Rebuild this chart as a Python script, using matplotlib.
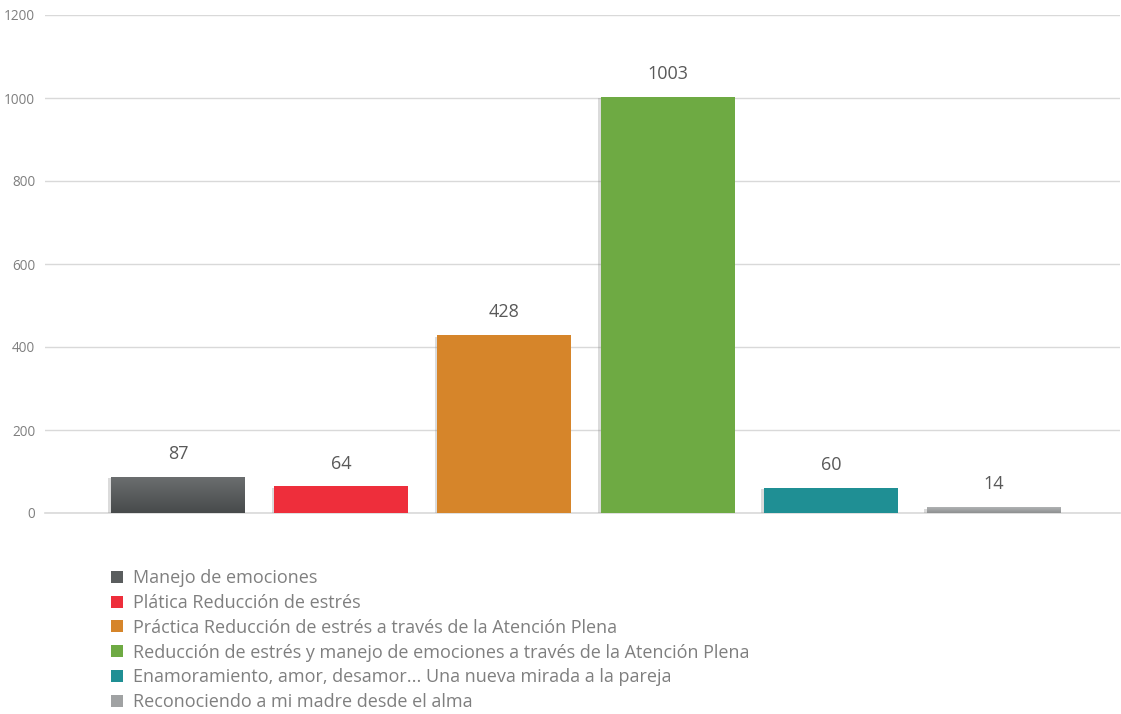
import numpy as np
import matplotlib
matplotlib.use("Agg")
import matplotlib.pyplot as plt
from matplotlib.patches import Patch
import matplotlib.patheffects as pe

plt.rcParams['font.family'] = ['Open Sans', 'DejaVu Sans']

# talleres y asistentes
categorias = [
    "Manejo de emociones",
    "Plática Reducción de estrés",
    "Práctica Reducción de estrés a través de la Atención Plena",
    "Reducción de estrés y manejo de emociones a través de la Atención Plena",
    "Enamoramiento, amor, desamor... Una nueva mirada a la pareja",
    "Reconociendo a mi madre desde el alma",
]
asistentes = [87, 64, 428, 1003, 60, 14]
colores = ["#5a5d5e", "#ee2e3b", "#d6852a", "#6eaa43", "#1f8f94", "#a0a2a3"]
# barras con degradado vertical (arriba, abajo)
degradados = {0: ("#6c6f70", "#474a4b"), 5: ("#b0b2b3", "#8e9091")}

y_ticks = [0, 200, 400, 600, 800, 1000, 1200]

fig = plt.figure(figsize=(11.21, 7.14), dpi=100)
ax = fig.add_axes([45 / 1121, 1 - 513 / 714, 1075 / 1121, 498 / 714])

x = np.arange(len(categorias))
ancho = 0.82
sombra = [pe.SimplePatchShadow(offset=(-2, -1), shadow_rgbFace="#888888", alpha=0.3), pe.Normal()]
barras = ax.bar(x, asistentes, width=ancho, color=colores, zorder=3)
for i, b in enumerate(barras):
    b.set_path_effects(sombra)
    if i in degradados:
        c1, c2 = degradados[i]
        cmap = matplotlib.colors.LinearSegmentedColormap.from_list("g", [c2, c1])
        grad = np.linspace(0, 1, 100).reshape(-1, 1)
        im = ax.imshow(grad, cmap=cmap, aspect="auto", origin="lower",
                       extent=[b.get_x(), b.get_x() + b.get_width(), 0, b.get_height()],
                       zorder=4)
        im.set_clip_path(b)

for xi, v in zip(x, asistentes):
    ax.annotate(str(v), (xi, v), xytext=(0, 10), textcoords="offset points",
                ha="center", va="bottom", fontsize=13, color="#595959")

ax.set_xlim(-0.815, 5.772)
ax.set_ylim(0, 1200)
ax.set_yticks(y_ticks)
ax.set_yticklabels([str(t) for t in y_ticks], fontsize=9.8, color="#7f7f7f")
ax.set_xticks([])
ax.grid(axis="y", color="#d9d9d9", linewidth=1, zorder=0)
for s in ["top", "right", "left"]:
    ax.spines[s].set_visible(False)
ax.spines["bottom"].set_color("#d9d9d9")
ax.spines["bottom"].set_linewidth(1.2)
ax.tick_params(axis="y", length=0, pad=7)
ax.set_aspect("auto")

handles = [Patch(facecolor=c, edgecolor="none") for c in colores]
fig.legend(handles, categorias, loc="upper left", bbox_to_anchor=(102 / 1121, 1 - 560 / 714),
           frameon=False, fontsize=13, labelcolor="#7f7f7f", handlelength=0.65,
           handleheight=0.65, handletextpad=0.55, labelspacing=0.38, borderpad=0)

fig.savefig("out.png", dpi=100)
